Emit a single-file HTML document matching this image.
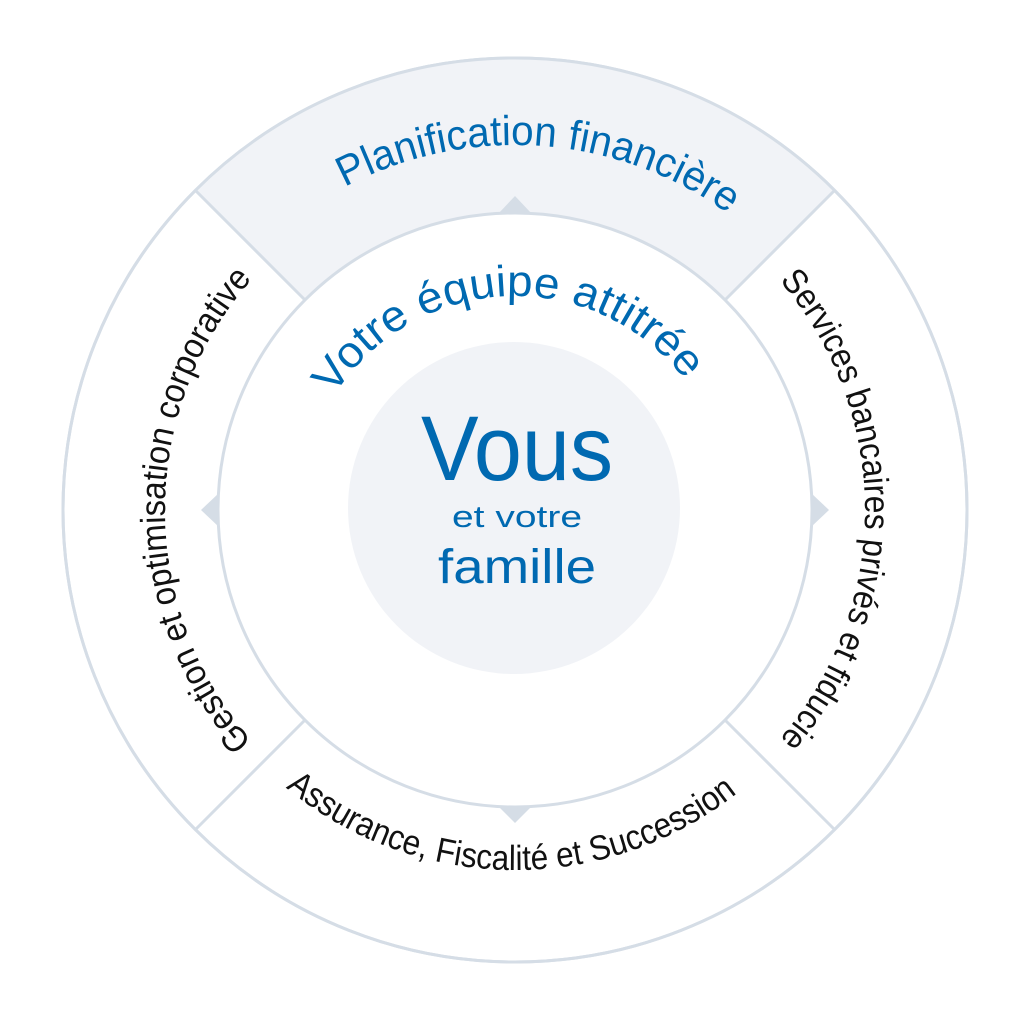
<!DOCTYPE html>
<html><head><meta charset="utf-8"><style>
html,body{margin:0;padding:0;background:#fff;}
svg{display:block;}
text{font-family:"Liberation Sans",sans-serif;}
</style></head><body>
<svg width="1031" height="1016" viewBox="0 0 1031 1016">
<defs>
<path id="pTop" d="M 150,510 A 365 365 0 0 1 880,510"/>
<path id="pVotre" d="M 301,510 A 214 214 0 0 1 729,510"/>
<path id="pLeft" d="M 515,860 A 350 350 0 0 1 515,160"/>
<path id="pRight" d="M 515,160 A 350 350 0 0 1 515,860"/>
<path id="pBot" d="M 155,510 A 360 360 0 0 0 875,510"/>
</defs>
<circle cx="515" cy="510" r="452" fill="#fff" stroke="#d5dde6" stroke-width="3"/>
<path d="M 305,300 L 195,190 A 452 452 0 0 1 835,190 L 725,300 A 297 297 0 0 0 305,300 Z" fill="#f1f3f7"/>
<circle cx="515" cy="510" r="452" fill="none" stroke="#d5dde6" stroke-width="3"/>
<g stroke="#d5dde6" stroke-width="3">
<line x1="305" y1="300" x2="195" y2="190"/>
<line x1="725" y1="300" x2="835" y2="190"/>
<line x1="305" y1="720" x2="195" y2="830"/>
<line x1="725" y1="720" x2="835" y2="830"/>
</g>
<g fill="#d5dde6">
<polygon points="498,214 515,196 532,214"/>
<polygon points="219,493 201,510 219,527"/>
<polygon points="811,493 829,510 811,527"/>
<polygon points="498,806 515,823 532,806"/>
</g>
<circle cx="515" cy="510" r="297" fill="#fff" stroke="#d5dde6" stroke-width="3"/>
<circle cx="514" cy="508" r="166" fill="#f1f3f7"/>
<g fill="#0069b1">
<text font-size="42"><textPath href="#pTop" startOffset="52.2%" text-anchor="middle" textLength="405" lengthAdjust="spacingAndGlyphs">Planification financière</textPath></text>
<text font-size="44"><textPath href="#pVotre" startOffset="48.6%" text-anchor="middle" textLength="412" lengthAdjust="spacingAndGlyphs">Votre équipe attitrée</textPath></text>
<text x="517" y="480" font-size="92" text-anchor="middle" textLength="192" lengthAdjust="spacingAndGlyphs">Vous</text>
<text x="517" y="527" font-size="31" text-anchor="middle" textLength="130" lengthAdjust="spacingAndGlyphs">et votre</text>
<text x="517" y="583" font-size="48" text-anchor="middle" textLength="158" lengthAdjust="spacingAndGlyphs">famille</text>
</g>
<g fill="#111">
<text font-size="35"><textPath href="#pLeft" startOffset="50%" text-anchor="middle" textLength="505" lengthAdjust="spacingAndGlyphs">Gestion et optimisation corporative</textPath></text>
<text font-size="35"><textPath href="#pRight" startOffset="50%" text-anchor="middle" textLength="500" lengthAdjust="spacingAndGlyphs">Services bancaires privés et fiducie</textPath></text>
<text font-size="35"><textPath href="#pBot" startOffset="49.6%" text-anchor="middle" textLength="488" lengthAdjust="spacingAndGlyphs">Assurance, Fiscalité et Succession</textPath></text>
</g>
</svg>
</body></html>
